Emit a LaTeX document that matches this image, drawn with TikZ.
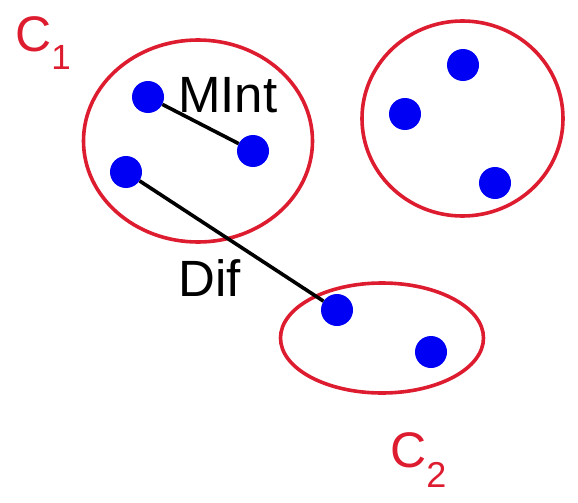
\documentclass[tikz,border=0pt]{standalone}
\usepackage{fontspec}
\setmainfont{Liberation Sans}
\usetikzlibrary{shapes.geometric}
\definecolor{cred}{RGB}{222,28,48}
\definecolor{cblue}{RGB}{0,0,245}
\tikzset{
  dot/.style={circle, fill=cblue, draw=none, minimum size=32pt, inner sep=0pt},
  clus/.style={ellipse, draw=cred, line width=3.6pt, inner sep=0pt},
  link/.style={draw=black, line width=3.6pt},
  lbl/.style={inner sep=0pt, anchor=base west, font=\fontsize{51}{51}\selectfont},
  clbl/.style={inner sep=0pt, anchor=base west, text=cred, font=\fontsize{50}{50}\selectfont}
}
\begin{document}
\begin{tikzpicture}[x=1pt,y=-1pt]
\useasboundingbox (0,0) rectangle (578,503);
% clusters
\node[clus, minimum width=229pt, minimum height=202pt] (e1) at (198,141) {};
\node[clus, minimum width=201pt, minimum height=195pt] (e3) at (462.5,118.5) {};
\node[clus, minimum width=203pt, minimum height=110pt] (e2) at (382,338) {};
% points
\node[dot] (a1) at (148,97) {};
\node[dot] (a2) at (253,151) {};
\node[dot] (a3) at (126,172) {};
\node[dot] (b1) at (463,65) {};
\node[dot] (b2) at (405,114) {};
\node[dot] (b3) at (495,183) {};
\node[dot] (d1) at (337,310) {};
\node[dot] (d2) at (431,352) {};
% connectors
\draw[link] (a1) -- (a2);
\draw[link] (a3) -- (d1);
% labels
\node[lbl] (mint) at (178,112) {MInt};
\node[lbl] (dif) at (178,296) {Dif};
\node[clbl] (c1) at (15,52) {C\raisebox{-18pt}{\fontsize{35}{35}\selectfont 1}};
\node[clbl] (c2) at (390,467) {C\raisebox{-20pt}{\fontsize{36}{36}\selectfont 2}};
\end{tikzpicture}
\end{document}
